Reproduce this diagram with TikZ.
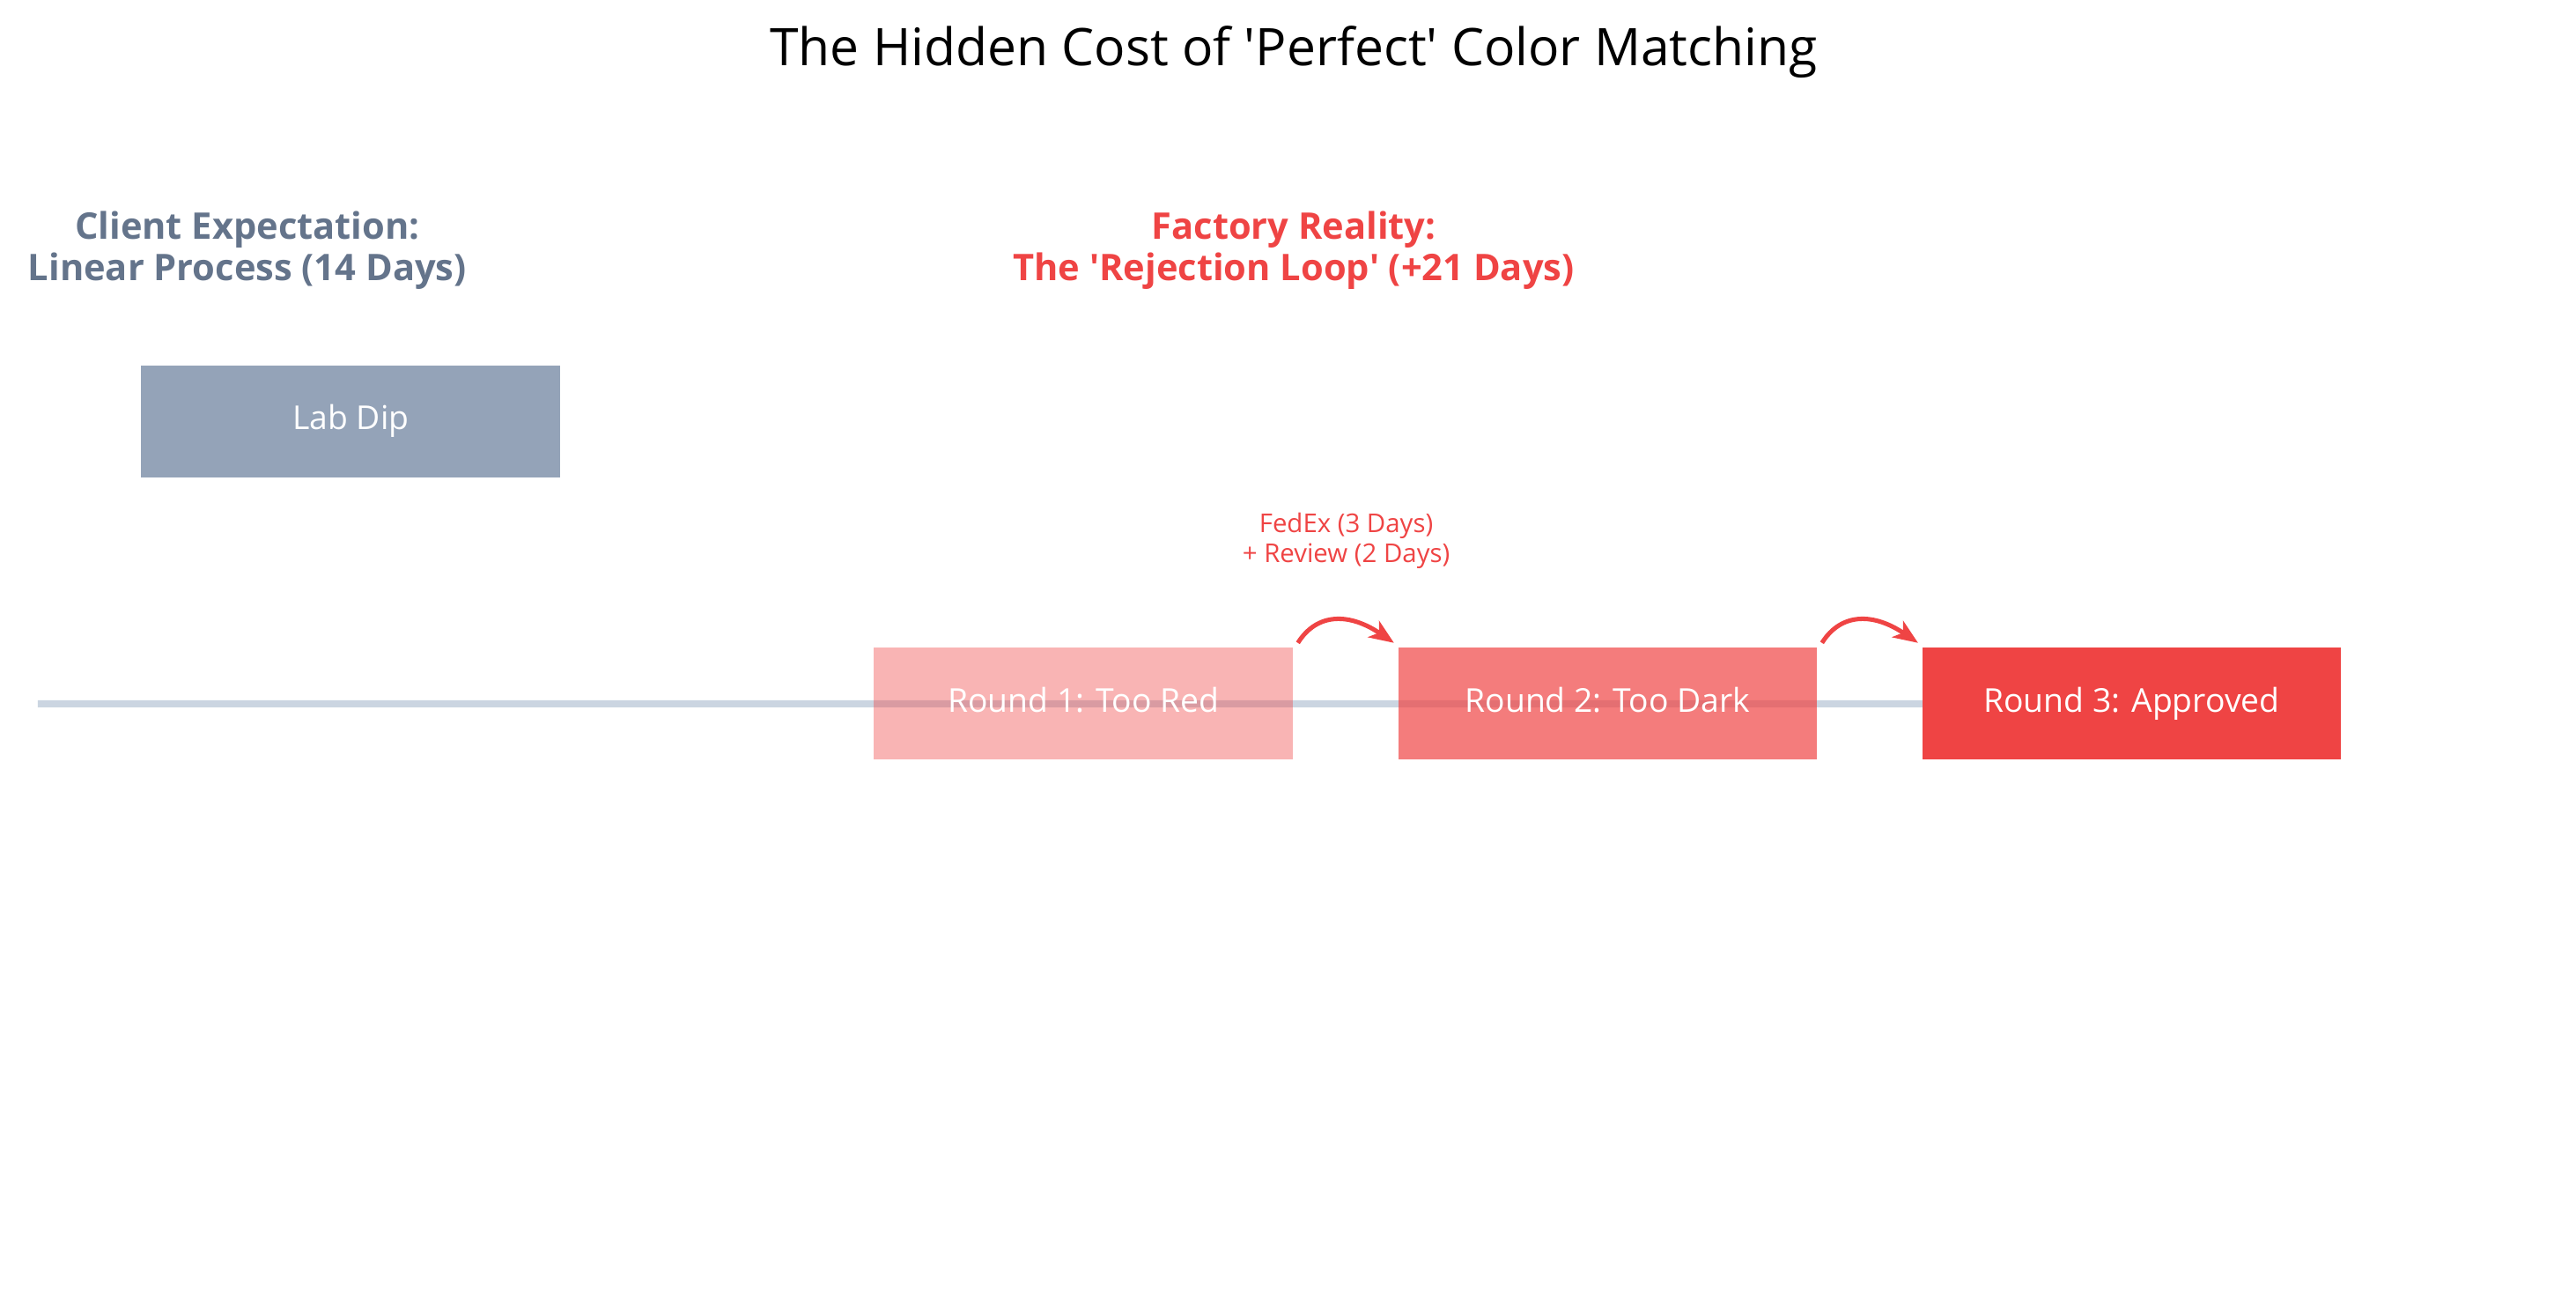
\documentclass[tikz,border=0pt]{standalone}
\usepackage{fontspec}
\setmainfont{Open Sans}
\usetikzlibrary{arrows.meta,backgrounds}
\definecolor{slate}{HTML}{64748B}
\definecolor{labgray}{HTML}{94A3B8}
\definecolor{linegray}{HTML}{CBD5E1}
\definecolor{redc}{HTML}{EF4444}
\begin{document}
\begin{tikzpicture}[x=1pt,y=-1pt,
  box/.style={minimum width=255pt,minimum height=68pt,inner sep=0pt,outer sep=0pt,
    text=white,font=\fontsize{20}{24}\selectfont,text height=14.3pt,text depth=4pt},
  hdr/.style={align=center,anchor=base,inner sep=0pt,font=\fontsize{22.3}{25.3}\selectfont\bfseries},
  loop/.style={redc,line width=2.7pt,-{Stealth[length=15pt,width=12pt,inset=4pt]}}]
\useasboundingbox (0,0) rectangle (1568,788);
\node[anchor=base,inner sep=0pt,font=\fontsize{31.5}{36}\selectfont] (title) at (787.5,40.2)
  {The Hidden Cost of \textquotesingle Perfect\textquotesingle\ Color Matching};
\node[hdr,text=slate] (client) at (150.5,170.6) {Client Expectation:\\Linear Process (14 Days)};
\node[hdr,text=redc] (factory) at (787.5,170.6) {Factory Reality:\\The \textquotesingle Rejection Loop\textquotesingle\ (+21 Days)};
\node[box,fill=labgray] (lab) at (213.5,256.3) {Lab Dip};
\node[box,fill=redc,fill opacity=0.4,text opacity=1] (r1) at (659.5,428.2) {Round 1: Too Red};
\node[box,fill=redc,fill opacity=0.7,text opacity=1] (r2) at (978.5,428.2) {Round 2: Too Dark};
\node[box,fill=redc] (r3) at (1297.5,428.2) {Round 3: Approved};
\node[anchor=base,align=center,inner sep=0pt,text=redc,font=\fontsize{15.75}{17.9}\selectfont] (ship) at (819.4,342.2)
  {FedEx (3 Days)\\+ Review (2 Days)};
\coordinate (lstart) at (23,428.3);
\begin{scope}[on background layer]
  \draw[linegray,line width=4.3pt] (lstart) -- (r3.center);
\end{scope}
\draw[loop] ([shift={(3,-3)}]r1.north east) .. controls +(12,-19) and +(-26.5,-18) .. ([shift={(-2.5,-3)}]r2.north west);
\draw[loop] ([shift={(3,-3)}]r2.north east) .. controls +(12,-19) and +(-26.5,-18) .. ([shift={(-2.5,-3)}]r3.north west);
\end{tikzpicture}
\end{document}
